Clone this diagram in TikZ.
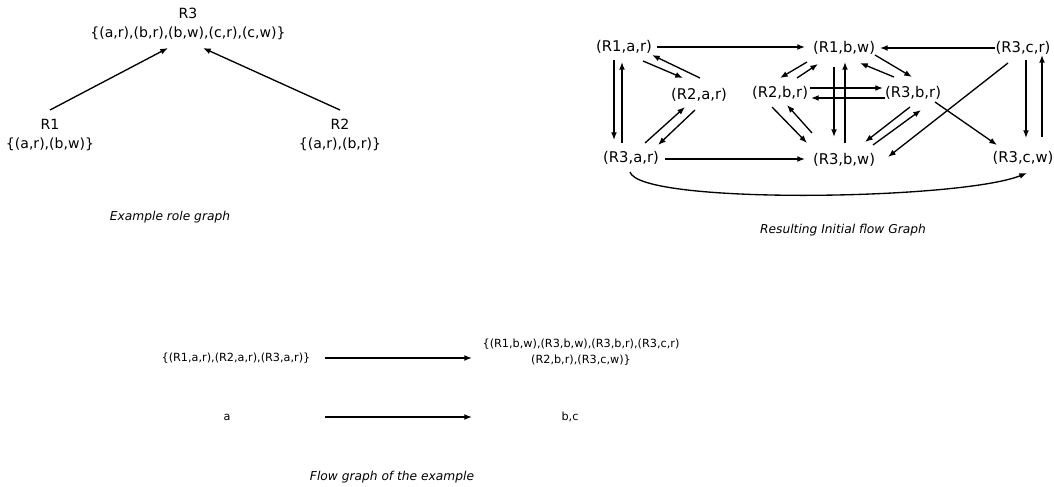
\documentclass[tikz,border=0pt]{standalone}
\usepackage{fontspec}
\setmainfont{DejaVu Sans}
\usetikzlibrary{arrows.meta}
\begin{document}
\begin{tikzpicture}[x=0.025cm,y=-0.025cm,
    arr/.style={line width=0.95pt,-{Latex[length=5.5pt,width=4.2pt]}},
    st/.style={font=\fontsize{10.5}{12}\selectfont,inner sep=1pt},
    captxt/.style={font=\fontsize{8.7}{10}\selectfont\itshape}]
    \useasboundingbox (0,0) rectangle (1054,487);
    % example role graph
    \node[align=center,font=\fontsize{10}{14}\selectfont] (r3) at (188,24) {R3\\{\{(a,r),(b,r),(b,w),(c,r),(c,w)\}}};
    \node[align=center,font=\fontsize{10}{14}\selectfont] (r1) at (50,135) {R1\\{\{(a,r),(b,w)\}}};
    \node[align=center,font=\fontsize{10}{14}\selectfont] (r2) at (340,135) {R2\\{\{(a,r),(b,r)\}}};
    \draw[arr] ([shift={(0,-25)}]r1.center) -- ([shift={(-20,24)}]r3.center);
    \draw[arr] ([shift={(0,-25)}]r2.center) -- ([shift={(15,24)}]r3.center);
    \node[captxt] (cap1) at (170,217) {Example role graph};
    % initial flow graph
    \node[st] (r1ar) at (624,47) {(R1,a,r)};
    \node[st] (r2ar) at (699,95) {(R2,a,r)};
    \node[st] (r3ar) at (631,158) {(R3,a,r)};
    \node[st] (r1bw) at (844,48) {(R1,b,w)};
    \node[st] (r2br) at (780,93) {(R2,b,r)};
    \node[st] (r3br) at (913,93) {(R3,b,r)};
    \node[st] (r3bw) at (844,160) {(R3,b,w)};
    \node[st] (r3cr) at (1023,48) {(R3,c,r)};
    \node[st] (r3cw) at (1023,158) {(R3,c,w)};
    \draw[arr] ([shift={(33,0)}]r1ar.center) -- ([shift={(-39,-1)}]r1bw.center);
    \draw[arr] ([shift={(-28,0)}]r3cr.center) -- ([shift={(36,0)}]r1bw.center);
    \draw[arr] ([shift={(-10,13)}]r1ar.center) -- ([shift={(-17,-18)}]r3ar.center);
    \draw[arr] ([shift={(-9,-15)}]r3ar.center) -- ([shift={(-2,15)}]r1ar.center);
    \draw[arr] ([shift={(19,14)}]r1ar.center) -- ([shift={(-16,-17)}]r2ar.center);
    \draw[arr] ([shift={(1,-17)}]r2ar.center) -- ([shift={(28,8)}]r1ar.center);
    \draw[arr] ([shift={(14,-15)}]r3ar.center) -- ([shift={(-14,12)}]r2ar.center);
    \draw[arr] ([shift={(-4,15)}]r2ar.center) -- ([shift={(27,-13)}]r3ar.center);
    \draw[arr] ([shift={(34,1)}]r3ar.center) -- ([shift={(-39,-1)}]r3bw.center);
    \draw[arr] ([shift={(-1,14)}]r3ar.center) .. controls (640,205) and (960,200) .. ([shift={(4,15)}]r3cw.center);
    \draw[arr] ([shift={(-37,14)}]r1bw.center) -- ([shift={(0,-15)}]r2br.center);
    \draw[arr] ([shift={(17,-15)}]r2br.center) -- ([shift={(-26,16)}]r1bw.center);
    \draw[arr] ([shift={(-10,19)}]r1bw.center) -- ([shift={(-10,-23)}]r3bw.center);
    \draw[arr] ([shift={(1,-17)}]r3bw.center) -- ([shift={(1,14)}]r1bw.center);
    \draw[arr] ([shift={(30,-5)}]r2br.center) -- ([shift={(-30,-5)}]r3br.center);
    \draw[arr] ([shift={(-28,5)}]r3br.center) -- ([shift={(31,5)}]r2br.center);
    \draw[arr] ([shift={(-8,14)}]r2br.center) -- ([shift={(-37,-17)}]r3bw.center);
    \draw[arr] ([shift={(-32,-27)}]r3bw.center) -- ([shift={(7,12)}]r2br.center);
    \draw[arr] ([shift={(31,7)}]r1bw.center) -- ([shift={(-1,-16)}]r3br.center);
    \draw[arr] ([shift={(-19,-16)}]r3br.center) -- ([shift={(16,15)}]r1bw.center);
    \draw[arr] ([shift={(-3,14)}]r3br.center) -- ([shift={(21,-18)}]r3bw.center);
    \draw[arr] ([shift={(29,-15)}]r3bw.center) -- ([shift={(8,17)}]r3br.center);
    \draw[arr] ([shift={(-15,15)}]r3cr.center) -- ([shift={(44,-3)}]r3bw.center);
    \draw[arr] ([shift={(22,9)}]r3br.center) -- ([shift={(-26,-13)}]r3cw.center);
    \draw[arr] ([shift={(3,12)}]r3cr.center) -- ([shift={(3,-20)}]r3cw.center);
    \draw[arr] ([shift={(19,-21)}]r3cw.center) -- ([shift={(19,7)}]r3cr.center);
    \node[captxt] (cap2) at (843,230) {Resulting Initial flow Graph};
    % flow graph
    \node[font=\fontsize{8}{11}\selectfont] (seta) at (236,358) {\{(R1,a,r),(R2,a,r),(R3,a,r)\}};
    \node[align=center,font=\fontsize{8}{11}\selectfont] (setb) at (581,352) {\{(R1,b,w),(R3,b,w),(R3,b,r),(R3,c,r)\\(R2,b,r),(R3,c,w)\}};
    \node[font=\fontsize{8}{11}\selectfont] (a) at (227,417) {a};
    \node[font=\fontsize{8}{11}\selectfont] (bc) at (570,417) {b,c};
    \draw[arr] ([shift={(89,0)}]seta.center) -- ([shift={(-109,6)}]setb.center);
    \draw[arr] ([shift={(98,0)}]a.center) -- ([shift={(-98,0)}]bc.center);
    \node[captxt] (cap3) at (392,477) {Flow graph of the example};
\end{tikzpicture}
\end{document}
